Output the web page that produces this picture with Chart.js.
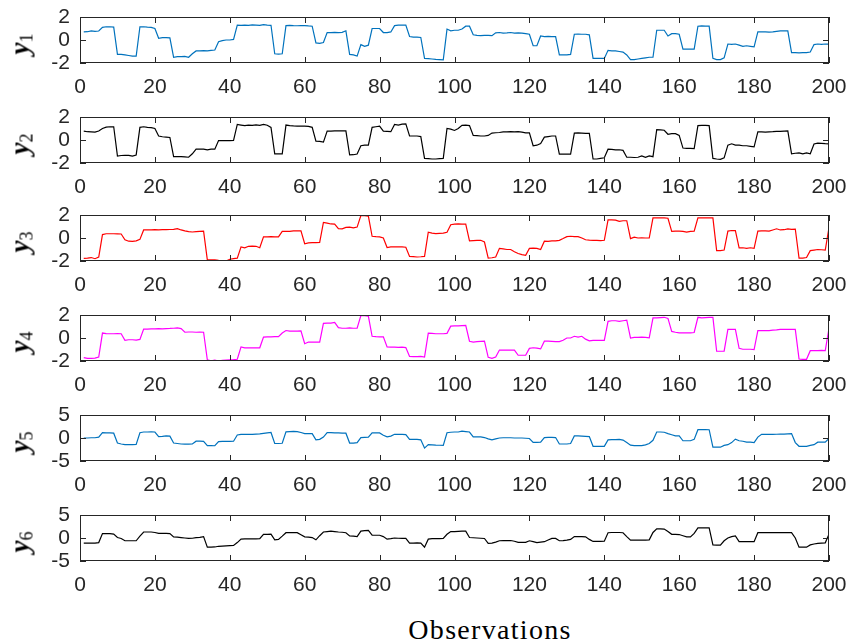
<!DOCTYPE html>
<html>
<head>
<meta charset="utf-8">
<script src="https://cdn.jsdelivr.net/npm/chart.js@4.4.1/dist/chart.umd.min.js"></script>
<style>
  body { margin: 0; background: #fff; width: 850px; height: 644px; position: relative; overflow: hidden; }
  canvas { position: absolute; left: 0; }
  .ylab { position: absolute; font-family: "Liberation Serif", "DejaVu Serif", serif; color: #000;
          transform: translate(-50%, -50%) rotate(-90deg); white-space: nowrap; line-height: 1; }
  .ylab b { font-style: italic; font-size: 27px; }
  .ylab sub { font-size: 18px; vertical-align: -4px; }
  #xlab { position: absolute; left: 490px; top: 614px; transform: translateX(-50%);
          font-family: "Liberation Serif", "DejaVu Serif", serif; font-size: 28px; letter-spacing: 1.3px; color: #000; }
</style>
</head>
<body>
<div id="xlab">Observations</div>
<script>
// observation index
const obs = Array.from({ length: 200 }, (_, i) => i + 1);

const y1 = [
  0.70, 0.72, 0.80, 0.75, 0.78, 1.10, 1.15, 1.15, 1.12, -1.25,
  -1.25, -1.30, -1.35, -1.40, -1.40, 1.15, 1.15, 1.12, 1.10, 1.00,
  0.15, 0.20, 0.20, 0.18, -1.50, -1.45, -1.45, -1.42, -1.50, -1.20,
  -0.95, -0.95, -0.92, -0.95, -0.90, -0.87, -0.15, -0.05, 0.00, 0.00,
  0.05, 1.30, 1.28, 1.30, 1.28, 1.32, 1.30, 1.27, 1.33, 1.30,
  1.28, -1.20, -1.22, -1.20, 1.25, 1.27, 1.25, 1.24, 1.26, 1.25,
  1.22, 1.20, -0.25, -0.30, -0.22, 0.65, 0.65, 0.66, 0.65, 0.66,
  0.80, -1.25, -1.30, -1.40, -0.40, -0.55, -0.45, 1.00, 1.00, 1.00,
  0.65, 0.65, 0.70, 1.25, 1.30, 1.30, 1.30, 0.30, 0.25, 0.25,
  0.22, -1.60, -1.62, -1.65, -1.68, -1.70, -1.72, 0.95, 0.80, 0.85,
  0.85, 0.95, 1.20, 1.20, 0.45, 0.40, 0.38, 0.40, 0.40, 0.38,
  0.62, 0.65, 0.60, 0.62, 0.65, 0.60, 0.62, 0.60, 0.55, 0.50,
  -0.50, -0.50, 0.35, 0.30, 0.32, 0.30, 0.30, -1.30, -1.30, -1.30,
  -1.25, 0.50, 0.52, 0.50, 0.50, 0.45, -1.60, -1.60, -1.60, -1.60,
  -0.90, -0.95, -0.95, -1.00, -1.05, -1.30, -1.70, -1.70, -1.65, -1.60,
  -1.55, -1.50, -1.50, 0.85, 0.85, 0.85, 0.35, 0.55, 0.55, 0.50,
  -0.80, -0.80, -0.80, -0.80, 1.20, 1.22, 1.20, 1.20, -1.60, -1.70,
  -1.70, -1.55, -0.35, -0.38, -0.35, -0.45, -0.55, -0.50, -0.55, -0.60,
  0.70, 0.70, 0.70, 0.68, 0.70, 0.75, 0.80, 0.80, 0.80, -1.10,
  -1.10, -1.12, -1.10, -1.10, -1.05, -0.40, -0.35, -0.38, -0.35, -0.35
];

const y2 = [
  0.77, 0.72, 0.70, 0.68, 0.78, 1.00, 1.12, 1.15, 1.15, -1.40,
  -1.35, -1.33, -1.33, -1.40, -1.30, 1.10, 1.15, 1.10, 1.08, 1.00,
  0.35, 0.28, 0.25, 0.22, -1.45, -1.45, -1.45, -1.47, -1.50, -1.20,
  -0.80, -0.80, -0.80, -0.85, -0.80, -0.80, -0.05, -0.05, -0.05, -0.05,
  -0.03, 1.35, 1.30, 1.25, 1.30, 1.28, 1.32, 1.28, 1.35, 1.28,
  1.10, -1.20, -1.20, -1.20, 1.30, 1.25, 1.22, 1.20, 1.20, 1.20,
  1.18, 1.10, -0.10, -0.12, -0.18, 0.77, 0.78, 0.80, 0.80, 0.80,
  0.80, -1.30, -1.28, -1.22, -0.50, -0.45, -0.45, 1.10, 1.15, 1.20,
  0.77, 0.75, 0.72, 1.35, 1.30, 1.38, 1.40, 0.35, 0.35, 0.35,
  0.30, -1.60, -1.62, -1.65, -1.65, -1.62, -1.60, 1.00, 0.95, 0.83,
  1.00, 1.28, 1.30, 1.25, 0.40, 0.38, 0.35, 0.35, 0.40, 0.60,
  0.63, 0.65, 0.70, 0.70, 0.72, 0.70, 0.72, 0.68, 0.62, 0.62,
  -0.50, -0.45, -0.30, 0.25, 0.30, 0.35, 0.35, -1.23, -1.23, -1.23,
  -1.23, 0.60, 0.62, 0.60, 0.58, 0.58, -1.65, -1.65, -1.60, -1.55,
  -0.80, -0.82, -0.85, -0.85, -0.90, -1.50, -1.50, -1.52, -1.50, -1.38,
  -1.50, -1.38, -1.45, 0.90, 0.88, 0.85, 0.50, 0.55, 0.55, 0.40,
  -0.70, -0.72, -0.72, -0.75, 1.25, 1.28, 1.28, 1.25, -1.60, -1.65,
  -1.68, -1.55, -0.45, -0.33, -0.45, -0.45, -0.50, -0.50, -0.55, -0.60,
  0.70, 0.70, 0.68, 0.70, 0.72, 0.75, 0.75, 0.78, 0.80, -1.20,
  -1.15, -1.12, -1.20, -1.12, -1.20, -0.35, -0.28, -0.30, -0.32, -0.33
];

const y3 = [
  -1.77, -1.75, -1.70, -1.80, -1.65, 0.30, 0.37, 0.37, 0.37, 0.36,
  0.35, -0.15, -0.28, -0.30, -0.25, -0.12, 0.70, 0.70, 0.70, 0.72,
  0.70, 0.72, 0.72, 0.74, 0.75, 0.82, 0.70, 0.62, 0.55, 0.52,
  0.55, 0.58, 0.60, -1.90, -1.90, -1.90, -1.95, -1.98, -2.00, -1.85,
  -1.80, -1.75, -0.77, -0.85, -0.72, -0.70, -0.72, -0.85, 0.10, 0.10,
  0.12, 0.10, 0.10, 0.57, 0.57, 0.58, 0.62, 0.63, 0.62, -0.50,
  -0.42, -0.40, -0.40, -0.38, 1.35, 1.30, 1.22, 1.20, 0.82, 0.80,
  0.92, 0.95, 0.88, 0.95, 1.95, 1.95, 1.90, 0.15, 0.12, 0.10,
  0.00, -0.83, -0.78, -0.77, -0.78, -0.77, -0.80, -1.60, -1.62, -1.65,
  -1.63, -1.60, 0.50, 0.42, 0.38, 0.40, 0.42, 0.50, 1.15, 1.20,
  1.22, 1.20, 1.20, -0.25, -0.22, -0.20, -0.20, -0.35, -1.75, -1.72,
  -1.65, -0.90, -0.95, -1.00, -1.00, -1.20, -1.35, -1.45, -1.50, -0.90,
  -0.88, -0.90, -1.00, -0.28, -0.30, -0.25, -0.25, -0.20, -0.05, 0.12,
  0.15, 0.12, 0.12, 0.00, -0.15, -0.18, -0.20, -0.20, -0.22, -0.20,
  1.57, 1.57, 1.55, 1.45, 1.50, 1.50, -0.05, 0.08, 0.00, 0.02,
  0.00, 0.00, 1.75, 1.75, 1.75, 1.75, 1.72, 0.57, 0.60, 0.60,
  0.58, 0.52, 0.58, 0.60, 1.75, 1.75, 1.75, 1.75, 1.75, -1.10,
  -1.10, -1.05, 0.60, 0.65, 0.65, -0.85, -0.85, -0.90, -0.85, -0.90,
  0.60, 0.62, 0.62, 0.60, 0.70, 0.80, 0.70, 0.72, 0.80, 0.75,
  0.78, -1.75, -1.75, -1.70, -1.10, -1.05, -1.00, -1.02, -1.05, 0.90
];

const y4 = [
  -1.70, -1.77, -1.77, -1.75, -1.65, 0.43, 0.38, 0.37, 0.37, 0.38,
  0.37, -0.20, -0.15, -0.15, -0.18, -0.12, 0.77, 0.78, 0.80, 0.80,
  0.82, 0.80, 0.82, 0.83, 0.85, 0.88, 0.82, 0.50, 0.52, 0.52,
  0.50, 0.52, 0.50, -1.90, -1.98, -1.92, -2.00, -1.95, -1.92, -1.90,
  -1.88, -1.85, -0.77, -0.85, -0.85, -0.85, -0.85, -0.85, 0.08, 0.10,
  0.10, 0.12, 0.12, 0.43, 0.65, 0.60, 0.60, 0.60, 0.62, -0.50,
  -0.35, -0.35, -0.35, -0.35, 1.28, 1.30, 1.30, 1.35, 0.90, 0.85,
  0.85, 0.88, 0.85, 0.85, 1.95, 1.95, 1.90, 0.15, 0.12, 0.10,
  0.10, -0.77, -0.80, -0.80, -0.82, -0.80, -0.83, -1.60, -1.62, -1.62,
  -1.60, -1.65, 0.43, 0.40, 0.37, 0.37, 0.37, 0.40, 1.03, 1.05,
  1.05, 1.08, 1.10, -0.28, -0.35, -0.32, -0.30, -0.28, -1.68, -1.77,
  -1.65, -1.05, -1.05, -1.05, -1.05, -1.05, -1.50, -1.50, -1.50, -0.90,
  -0.85, -0.88, -0.95, -0.28, -0.28, -0.30, -0.32, -0.32, -0.20, 0.00,
  0.00, 0.15, 0.08, 0.15, -0.10, -0.25, -0.20, -0.20, -0.20, -0.20,
  1.45, 1.50, 1.50, 1.45, 1.50, 1.55, 0.00, 0.05, 0.05, 0.08,
  0.05, 0.02, 1.75, 1.75, 1.78, 1.80, 1.70, 0.57, 0.50, 0.45,
  0.45, 0.45, 0.45, 0.48, 1.80, 1.75, 1.78, 1.80, 1.80, -1.15,
  -1.15, -1.15, 0.75, 0.75, 0.75, -0.90, -0.98, -0.98, -0.98, -1.00,
  0.65, 0.65, 0.65, 0.65, 0.68, 0.70, 0.75, 0.75, 0.75, 0.75,
  0.75, -1.83, -1.85, -1.85, -1.10, -1.10, -1.10, -1.08, -1.10, 0.85
];

const y5 = [
  0.00, 0.00, 0.05, 0.05, 0.20, 1.15, 1.10, 1.10, 1.05, -1.10,
  -1.30, -1.45, -1.45, -1.42, -1.40, 1.15, 1.30, 1.30, 1.32, 1.30,
  0.30, 0.35, 0.45, 0.40, -1.10, -1.20, -1.30, -1.35, -1.35, -1.30,
  -0.70, -0.70, -0.75, -1.65, -1.65, -1.68, -0.80, -0.75, -0.75, -0.72,
  -0.70, 0.65, 0.80, 0.80, 0.82, 0.80, 0.85, 0.90, 1.00, 1.10,
  1.20, -1.20, -1.20, -1.15, 1.35, 1.40, 1.45, 1.40, 1.20, 0.95,
  0.95, 0.95, -0.40, -0.30, 0.20, 1.15, 1.15, 1.10, 1.10, 1.08,
  1.05, -1.10, -1.10, -1.00, 0.10, 0.15, 0.20, 1.10, 1.10, 1.10,
  0.60, 0.25, 0.40, 0.80, 0.80, 0.80, 0.75, -0.30, -0.30, -0.30,
  -0.40, -2.20, -1.45, -1.50, -1.55, -1.58, -1.60, 1.15, 1.25, 1.30,
  1.30, 1.50, 1.40, 1.30, 0.25, 0.25, 0.25, 0.10, -0.20, -0.40,
  -0.20, 0.00, 0.05, 0.05, 0.05, 0.00, 0.00, 0.00, -0.05, -0.10,
  -0.95, -0.95, -0.90, 0.10, 0.15, 0.15, 0.10, -1.30, -1.30, -1.30,
  -1.20, 0.45, 0.45, 0.40, 0.35, 0.30, -1.80, -1.80, -1.80, -1.80,
  -0.40, -0.35, -0.35, -0.30, -0.45, -1.00, -1.55, -1.65, -1.65, -1.65,
  -1.50, -1.20, -0.50, 1.30, 1.30, 1.25, 0.95, 0.70, 0.45, 0.45,
  -0.60, -0.60, -0.60, -0.30, 1.80, 1.80, 1.82, 1.80, -2.00, -2.00,
  -2.00, -1.60, -1.45, -1.00, -0.25, -0.60, -0.70, -0.90, -0.90, -1.00,
  0.20, 0.80, 0.80, 0.82, 0.80, 0.82, 0.85, 0.85, 0.90, 0.95,
  -1.00, -1.80, -1.80, -1.80, -1.60, -1.45, -0.90, -0.90, -0.90, -0.10
];

const y6 = [
  -1.10, -1.10, -1.12, -1.12, -1.00, 0.95, 0.95, 0.95, 0.85, 0.10,
  -0.10, -0.60, -0.60, -0.60, -0.60, 0.40, 1.30, 1.30, 1.30, 1.20,
  1.00, 1.00, 1.00, 0.95, 0.25, 0.20, 0.10, 0.00, -0.10, -0.05,
  0.10, 0.15, 0.30, -2.00, -2.00, -1.95, -1.80, -1.75, -1.70, -1.65,
  -1.60, -1.00, -0.25, -0.20, -0.18, -0.20, -0.18, -0.15, 0.80, 0.80,
  0.82, -0.40, -0.30, 0.40, 1.15, 1.15, 1.15, 1.15, 0.70, 0.25,
  0.20, 0.10, -0.40, 0.50, 1.30, 1.40, 1.50, 1.40, 1.30, 1.25,
  1.15, 0.45, 0.40, 0.30, 1.50, 1.60, 1.65, 0.60, 0.60, 0.60,
  0.30, -0.25, -0.15, 0.00, -0.05, -0.10, -0.10, -1.10, -1.10, -1.05,
  -1.10, -2.00, -0.25, -0.15, -0.15, -0.15, -0.10, 0.80, 1.40, 1.40,
  1.45, 1.50, 1.50, 0.10, 0.05, 0.00, -0.05, -0.10, -1.15, -1.10,
  -0.90, -0.60, -0.55, -0.55, -0.55, -0.70, -0.95, -0.95, -0.95, -0.60,
  -0.80, -1.00, -0.90, -0.80, -0.45, -0.10, -0.10, -0.60, -0.55, -0.45,
  -0.30, 0.30, 0.30, 0.30, 0.25, -0.30, -0.75, -0.75, -0.75, -0.70,
  1.15, 1.20, 1.20, 1.20, 1.15, 0.30, -0.45, -0.45, -0.45, -0.45,
  -0.45, -0.40, 1.20, 2.00, 2.00, 1.95, 1.40, 0.80, 0.80, 0.75,
  0.50, 0.25, 0.25, 1.00, 2.20, 2.20, 2.20, 2.20, -1.50, -1.55,
  -1.55, -0.60, 0.00, 0.30, 0.45, -0.80, -0.80, -0.80, -0.80, -0.80,
  1.15, 1.15, 1.15, 1.15, 1.15, 1.15, 1.15, 1.15, 1.15, 1.15,
  0.00, -2.00, -2.00, -2.00, -1.50, -1.30, -1.15, -1.10, -1.05, 0.80
];

const seriesList = [y1, y2, y3, y4, y5, y6];
const seriesNames = ['1', '2', '3', '4', '5', '6'];
const seriesColors = ['#0072BD', '#000000', '#FF0000', '#FF00FF', '#0072BD', '#000000'];
const yLimits = [2, 2, 2, 2, 5, 5];
const xTickStep = 20;

// panel placement on the page
const panelTops = [17, 117, 215, 315, 415, 515];
const plotH = 46;
const padTop = 12;
const canvasH = 100;
const axisColor = '#262626';
const tickFont = { family: '"Liberation Sans", Arial, sans-serif', size: 21 };

// MATLAB style box with inward ticks
const boxPlugin = {
  id: 'box',
  afterDatasetsDraw(chart) {
    const { ctx, chartArea: a, scales: { x, y } } = chart;
    const len = 6;
    ctx.save();
    ctx.strokeStyle = axisColor;
    ctx.lineWidth = 1;
    ctx.beginPath();
    x.ticks.forEach(t => {
      const px = Math.round(x.getPixelForValue(t.value)) + 0.5;
      ctx.moveTo(px, a.bottom); ctx.lineTo(px, a.bottom - len);
      ctx.moveTo(px, a.top); ctx.lineTo(px, a.top + len);
    });
    y.ticks.forEach(t => {
      const py = Math.round(y.getPixelForValue(t.value)) + 0.5;
      ctx.moveTo(a.left, py); ctx.lineTo(a.left + len, py);
      ctx.moveTo(a.right, py); ctx.lineTo(a.right - len, py);
    });
    ctx.stroke();
    ctx.strokeRect(Math.round(a.left) + 0.5, Math.round(a.top) + 0.5,
                   Math.round(a.right - a.left) - 1, Math.round(a.bottom - a.top) - 1);
    ctx.restore();
  }
};

// keep axis labels from shrinking the plot area
function noOverflow(s) {
  s.paddingLeft = 0; s.paddingRight = 0; s.paddingTop = 0; s.paddingBottom = 0;
}

seriesList.forEach((vals, k) => {
  const top = panelTops[k] - padTop;
  const cv = document.createElement('canvas');
  cv.width = 850;
  cv.height = canvasH;
  cv.style.top = top + 'px';
  document.body.appendChild(cv);

  const lab = document.createElement('div');
  lab.className = 'ylab';
  lab.style.left = '21px';
  lab.style.top = (panelTops[k] + plotH / 2 + 4) + 'px';
  lab.innerHTML = '<b>y</b><sub>' + seriesNames[k] + '</sub>';
  document.body.appendChild(lab);

  const lim = yLimits[k];
  new Chart(cv, {
    type: 'line',
    data: {
      datasets: [{
        data: obs.map((o, i) => ({ x: o, y: vals[i] })),
        borderColor: seriesColors[k],
        borderWidth: 1.2,
        pointRadius: 0,
        tension: 0,
        fill: false
      }]
    },
    options: {
      responsive: false,
      animation: false,
      events: [],
      layout: { autoPadding: false, padding: { top: padTop, right: 21, left: 0, bottom: 0 } },
      plugins: { legend: { display: false }, tooltip: { enabled: false } },
      scales: {
        x: {
          type: 'linear', min: 0, max: 200,
          grid: { display: false, drawTicks: false },
          border: { display: false },
          ticks: { stepSize: xTickStep, padding: 12, maxRotation: 0, autoSkip: false,
                   color: axisColor, font: tickFont },
          afterFit(s) { s.height = canvasH - padTop - plotH; noOverflow(s); }
        },
        y: {
          min: -lim, max: lim,
          grid: { display: false, drawTicks: false },
          border: { display: false },
          ticks: { stepSize: lim, padding: 10, autoSkip: false, color: axisColor, font: tickFont },
          afterFit(s) { s.width = 80; noOverflow(s); }
        }
      }
    },
    plugins: [boxPlugin]
  });
});
</script>
</body>
</html>
